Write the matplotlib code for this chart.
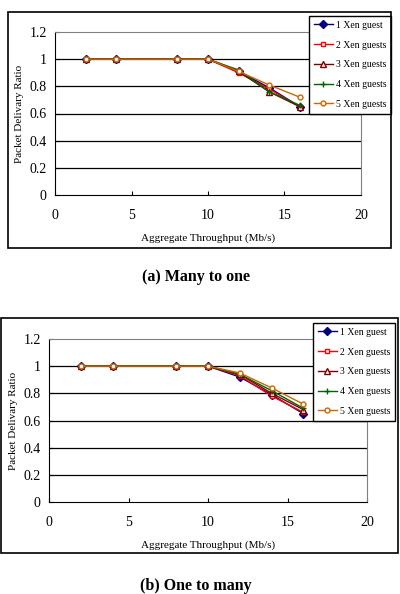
import matplotlib.pyplot as plt
from matplotlib.patches import Rectangle

# throughput points (Mb/s)
x_vals = [2, 4, 8, 10, 12, 14, 16]
series_names = ['1 Xen guest', '2 Xen guests', '3 Xen guests', '4 Xen guests', '5 Xen guests']

# (a) many to one
many_to_one = [
    [1, 1, 1, 1, 0.91, 0.79, 0.65],
    [1, 1, 1, 1, 0.90, 0.78, 0.65],
    [1, 1, 1, 1, 0.91, 0.76, 0.65],
    [1, 1, 1, 1, 0.92, 0.76, 0.66],
    [1, 1, 1, 1, 0.91, 0.81, 0.72],
]

# (b) one to many
one_to_many = [
    [1, 1, 1, 1, 0.92, 0.79, 0.65],
    [1, 1, 1, 1, 0.93, 0.78, 0.66],
    [1, 1, 1, 1, 0.94, 0.80, 0.68],
    [1, 1, 1, 1, 0.94, 0.82, 0.69],
    [1, 1, 1, 1, 0.95, 0.84, 0.72],
]

captions = ['(a) Many to one', '(b) One to many']

colors = ['#000080', '#FF0000', '#800000', '#006400', '#CC6600']
markers = ['D', 's', '^', '+', 'o']
fills = ['#000080', 'white', 'white', '#006400', 'white']
msizes = [4, 3.5, 4, 4, 3.5]

plt.rcParams['font.family'] = ['Liberation Serif', 'DejaVu Serif']

W, H = 400, 594
fig = plt.figure(figsize=(4, 5.94), dpi=100)


def fx(px):
    return px / W


def fy(py):
    return 1 - py / H


def draw_panel(data, box, ax_rect, leg_corner, caption, cap_y):
    # outer chart border
    x0, y0, x1, y1 = box
    fig.patches.append(Rectangle((fx(x0), fy(y1)), fx(x1) - fx(x0), fy(y0) - fy(y1),
                                 transform=fig.transFigure, fill=False,
                                 edgecolor='black', linewidth=1.2))
    l, t, r, b = ax_rect
    ax = fig.add_axes([fx(l), fy(b), fx(r) - fx(l), fy(t) - fy(b)])
    for vals, name, c, m, fc, ms in zip(data, series_names, colors, markers, fills, msizes):
        ax.plot(x_vals, vals, color=c, marker=m, markerfacecolor=fc,
                markeredgecolor=c, markersize=ms, linewidth=1, label=name)
    ax.set_xlim(0, 20)
    ax.set_ylim(0, 1.2)
    ax.set_xticks([0, 5, 10, 15, 20])
    ax.set_xticklabels(['0', '5', '10', '15', '20'])
    ax.set_yticks([0, 0.2, 0.4, 0.6, 0.8, 1.0, 1.2])
    ax.set_yticklabels(['0', '0.2', '0.4', '0.6', '0.8', '1', '1.2'])
    for yv in [0.2, 0.4, 0.6, 0.8, 1.0]:
        ax.axhline(yv, color='black', linewidth=0.9, zorder=0)
    ax.spines['top'].set_color('#808080')
    ax.spines['right'].set_color('#808080')
    ax.spines['left'].set_color('black')
    ax.spines['bottom'].set_color('black')
    ax.tick_params(axis='both', labelsize=10, direction='in', length=3, pad=6)
    ax.tick_params(axis='x', pad=10)
    ax.set_xlabel('Aggregate Throughput (Mb/s)', fontsize=8, labelpad=8)
    ax.set_ylabel('Packet Delivary Ratio', fontsize=8, labelpad=4)

    # legend: upper-right corner placed in figure pixels
    lx, ly = leg_corner
    leg = ax.legend(loc='upper right', bbox_to_anchor=(fx(lx), fy(ly)),
                    bbox_transform=fig.transFigure,
                    fontsize=7, frameon=True, fancybox=False, borderpad=0.5,
                    labelspacing=1.1, handlelength=1.9, handletextpad=0.3,
                    borderaxespad=0)
    leg.get_frame().set_edgecolor('black')
    leg.get_frame().set_linewidth(1.0)
    leg.get_frame().set_alpha(1)

    fig.text(0.49, fy(cap_y), caption, ha='center', va='center',
             fontsize=11.5, fontweight='bold')
    return ax


draw_panel(many_to_one, (8, 12, 391, 248), (55, 32, 361, 195), (391, 16), captions[0], 277)
draw_panel(one_to_many, (1, 318, 398, 553), (49, 339, 367, 502), (395, 323), captions[1], 586)

fig.savefig('out.png', dpi=100)
